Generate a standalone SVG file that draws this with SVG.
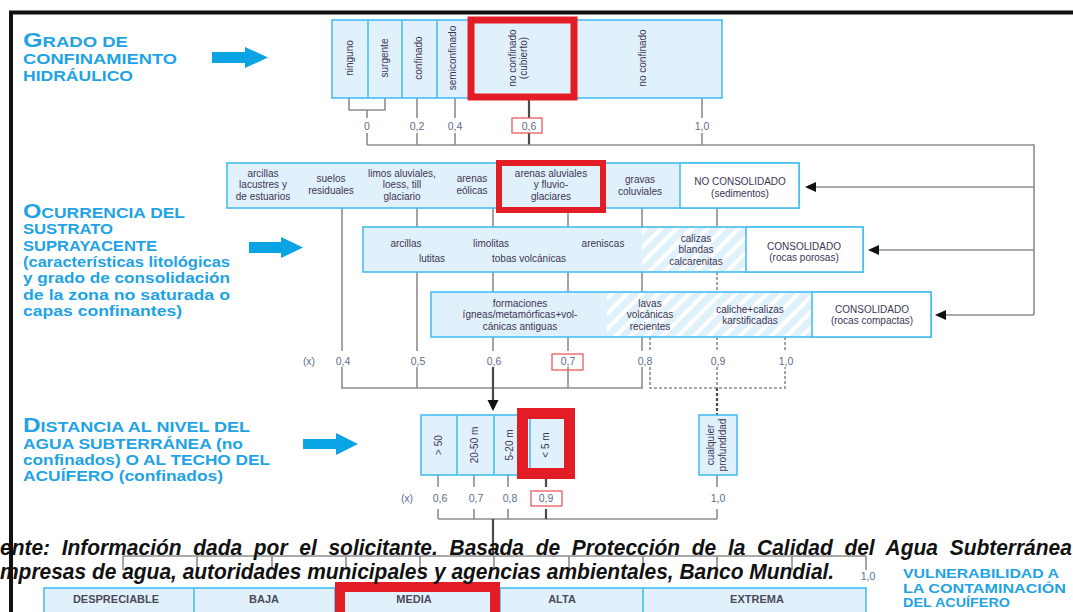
<svg xmlns="http://www.w3.org/2000/svg" width="1073" height="612" viewBox="0 0 1073 612">
<defs>
<style>
.t{font-family:"Liberation Sans",Arial,sans-serif;font-weight:bold;fill:#1fa3e4}
.c{font-family:"Liberation Sans",Arial,sans-serif;font-size:10px;fill:#3d3553;text-anchor:middle}
.v{font-family:"Liberation Sans",Arial,sans-serif;font-size:10px;fill:#3d3553;text-anchor:middle}
.n{font-family:"Liberation Sans",Arial,sans-serif;font-size:10.5px;fill:#5d6d8c;text-anchor:middle}
.bx{fill:#e1f1fb;stroke:#45bff0;stroke-width:1.6}
.wb{fill:#fff;stroke:#45bff0;stroke-width:1.6}
.dv{stroke:#45bff0;stroke-width:1.6;fill:none}
.rd{fill:none;stroke:#e31d25}
.rn{fill:none;stroke:#ec5a60;stroke-width:1.3}
.ln{fill:none;stroke:#8d8d8d;stroke-width:1.6}
.dk{fill:none;stroke:#4a4a4a;stroke-width:2.2}
.ds{stroke-dasharray:3 2}
.ba{fill:#0aa3e3}
.ah{fill:#111}
.bt{font-family:"Liberation Sans",Arial,sans-serif;font-weight:bold;font-size:11px;fill:#4b4a5c;text-anchor:middle}
.ov{font-family:"Liberation Sans",Arial,sans-serif;font-weight:bold;font-style:italic;font-size:22px;fill:#111}
</style>
<pattern id="hatch" width="11" height="11" patternUnits="userSpaceOnUse" patternTransform="rotate(45)">
<rect width="11" height="11" fill="#e1f1fb"/>
<rect width="4" height="11" fill="#fff"/>
</pattern>
</defs>

<g id="frame"><path d="M9,12.5 H1073 M11,10.5 V612" stroke="#111" stroke-width="4" fill="none"/></g>

<g id="title-grado">
<text class="t" x="23" y="47" textLength="105" lengthAdjust="spacingAndGlyphs"><tspan font-size="21">G</tspan><tspan font-size="15.5">RADO DE</tspan></text>
<text class="t" x="23" y="64" font-size="15.5" textLength="154" lengthAdjust="spacingAndGlyphs">CONFINAMIENTO</text>
<text class="t" x="23" y="81" font-size="15.5" textLength="110" lengthAdjust="spacingAndGlyphs">HIDRÁULICO</text>
<path class="ba" d="M212,52 H245 V47 L268,57.5 L245,68 V63 H212 Z"/>
</g>

<g id="title-ocurrencia">
<text class="t" x="23" y="218" textLength="162" lengthAdjust="spacingAndGlyphs"><tspan font-size="21">O</tspan><tspan font-size="15.5">CURRENCIA DEL</tspan></text>
<text class="t" x="23" y="234" font-size="15.5" textLength="90" lengthAdjust="spacingAndGlyphs">SUSTRATO</text>
<text class="t" x="23" y="251" font-size="15.5" textLength="134" lengthAdjust="spacingAndGlyphs">SUPRAYACENTE</text>
<text class="t" x="23" y="267" font-size="15" textLength="207" lengthAdjust="spacingAndGlyphs">(características litológicas</text>
<text class="t" x="23" y="283" font-size="15" textLength="207" lengthAdjust="spacingAndGlyphs">y grado de consolidación</text>
<text class="t" x="23" y="300" font-size="15" textLength="207" lengthAdjust="spacingAndGlyphs">de la zona no saturada o</text>
<text class="t" x="23" y="316" font-size="15" textLength="159" lengthAdjust="spacingAndGlyphs">capas confinantes)</text>
<path class="ba" d="M249,242 H281 V237 L303,247.5 L281,258 V253 H249 Z"/>
</g>

<g id="title-distancia">
<text class="t" x="23" y="432" textLength="227" lengthAdjust="spacingAndGlyphs"><tspan font-size="21">D</tspan><tspan font-size="15.5">ISTANCIA AL NIVEL DEL</tspan></text>
<text class="t" x="23" y="449" font-size="15.5" textLength="220" lengthAdjust="spacingAndGlyphs">AGUA SUBTERRÁNEA (no</text>
<text class="t" x="23" y="465" font-size="15.5" textLength="247" lengthAdjust="spacingAndGlyphs">confinados) O AL TECHO DEL</text>
<text class="t" x="23" y="481" font-size="15.5" textLength="200" lengthAdjust="spacingAndGlyphs">ACUÍFERO (confinados)</text>
<path class="ba" d="M303,439 H336 V433 L358,444 L336,455 V449 H303 Z"/>
</g>

<g id="title-vulnerabilidad">
<text class="t" x="903" y="578" font-size="12.5" textLength="156" lengthAdjust="spacingAndGlyphs">VULNERABILIDAD A</text>
<text class="t" x="903" y="593" font-size="12.5" textLength="163" lengthAdjust="spacingAndGlyphs">LA CONTAMINACIÓN</text>
<text class="t" x="903" y="607" font-size="12.5" textLength="107" lengthAdjust="spacingAndGlyphs">DEL ACUÍFERO</text>
</g>

<g id="connectors">
<path class="ln" d="M349,98 V110 H385 V98 M367,110 V118 M417,98 V118 M455,98 V118 M702,98 V118"/>
<path class="dk" d="M529,98 V118 M529,133 V145"/>
<path class="ln" d="M367,133 V145 M417,133 V145 M455,133 V145 M702,133 V145 M367,145 H1034 V315 M1034,187 H815 M1034,250 H878 M1034,315 H945"/>
<polygon class="ah" points="805,187 816,182 816,192"/>
<polygon class="ah" points="868,250 879,245 879,255"/>
<polygon class="ah" points="935,315 946,310 946,320"/>
<path class="ln" d="M342,208 V351 M417,208 V227 M417,272 V351 M493,208 V227 M493,272 V292 M493,337 V351 M568,208 V227 M568,272 V292 M568,337 V351 M642,208 V227 M642,272 V292 M642,337 V351 M717,208 V227"/>
<path class="ln ds" d="M717,272 V292 M717,337 V351 M650,337 V351 M785,337 V351"/>
<path class="ln" d="M342,367 V388 H642 V367 M417,367 V388 M568,367 V388"/>
<path class="dk" d="M493,367 V402"/>
<polygon class="ah" points="487.5,400 498.5,400 493,411"/>
<path class="ln ds" d="M650,367 V388 H785 V367 M717,367 V388"/>
<path class="dk ds" d="M717,388 V415"/>
<path class="ln" d="M438,475 V487 M474,475 V487 M508,475 V487 M717,475 V487 M438,509 V519 M474,509 V519 M508,509 V519 M717,509 V519 M438,519 H717"/>
<path class="dk" d="M546,475 V487 M546,509 V519 M493,519 V556"/>
<path class="ln" d="M123,556 H866 M123,556 V570 M197,556 V570 M272,556 V570 M346,556 V570 M420,556 V570 M494,556 V570 M569,556 V570 M643,556 V570 M717,556 V570 M792,556 V570 M866,556 V570"/>
</g>

<g id="scale-confinamiento">
<text class="n" x="367" y="129.5">0</text>
<text class="n" x="417" y="129.5">0,2</text>
<text class="n" x="455" y="129.5">0,4</text>
<text class="n" x="529" y="129.5">0,6</text>
<rect class="rn" x="512" y="118" width="30" height="15"/>
<text class="n" x="702" y="129.5">1,0</text>
</g>

<g id="scale-sustrato">
<text class="n" x="309" y="364.5">(x)</text>
<text class="n" x="343" y="364.5">0,4</text>
<text class="n" x="418" y="364.5">0,5</text>
<text class="n" x="494" y="364.5">0,6</text>
<text class="n" x="568" y="364.5">0,7</text>
<rect class="rn" x="552" y="354" width="31" height="16"/>
<text class="n" x="645" y="364.5">0,8</text>
<text class="n" x="718" y="364.5">0,9</text>
<text class="n" x="786" y="364.5">1,0</text>
</g>

<g id="scale-distancia">
<text class="n" x="407" y="501.5">(x)</text>
<text class="n" x="440" y="501.5">0,6</text>
<text class="n" x="476" y="501.5">0,7</text>
<text class="n" x="510" y="501.5">0,8</text>
<text class="n" x="546" y="501.5">0,9</text>
<rect class="rn" x="531" y="491" width="31" height="15"/>
<text class="n" x="718" y="501.5">1,0</text>
</g>

<g id="scale-vulnerabilidad">
<text class="n" x="868" y="580" font-size="9">1,0</text>
</g>

<g id="confinamiento">
<rect class="bx" x="332" y="20" width="390" height="78"/>
<path class="dv" d="M368,20 V98 M402,20 V98 M437,20 V98 M471,20 V98 M574,20 V98"/>
<text class="v" transform="translate(353,58) rotate(-90)">ninguno</text>
<text class="v" transform="translate(388,58) rotate(-90)">surgente</text>
<text class="v" transform="translate(422,58) rotate(-90)">confinado</text>
<text class="v" transform="translate(456,58) rotate(-90)">semiconfinado</text>
<text class="v" transform="translate(516,58) rotate(-90)">no confinado</text>
<text class="v" transform="translate(527,58) rotate(-90)">(cubierto)</text>
<text class="v" transform="translate(646,58) rotate(-90)">no confinado</text>
<rect class="rd" x="471" y="20" width="103" height="77" stroke-width="7"/>
</g>

<g id="no-consolidado">
<rect class="bx" x="227" y="163" width="572" height="45"/>
<rect class="wb" x="680" y="163" width="119" height="45"/>
<text class="c" x="263" y="176.5">arcillas</text>
<text class="c" x="263" y="188">lacustres y</text>
<text class="c" x="263" y="199.5">de estuarios</text>
<text class="c" x="331" y="182">suelos</text>
<text class="c" x="331" y="193.5">residuales</text>
<text class="c" x="402" y="176.5">limos aluviales,</text>
<text class="c" x="402" y="188">loess, till</text>
<text class="c" x="402" y="199.5">glaciario</text>
<text class="c" x="472" y="182">arenas</text>
<text class="c" x="472" y="193.5">eólicas</text>
<text class="c" x="551" y="176.5">arenas aluviales</text>
<text class="c" x="551" y="188">y fluvio-</text>
<text class="c" x="551" y="199.5">glaciares</text>
<text class="c" x="640" y="183">gravas</text>
<text class="c" x="640" y="194.5">coluviales</text>
<text class="c" x="740" y="185">NO CONSOLIDADO</text>
<text class="c" x="740" y="197">(sedimentos)</text>
<rect class="rd" x="499" y="163" width="104" height="47" stroke-width="6"/>
</g>

<g id="consolidado-porosas">
<rect class="bx" x="363" y="227" width="500" height="45"/>
<rect x="642" y="228" width="104" height="43" fill="url(#hatch)"/>
<rect class="wb" x="746" y="227" width="117" height="45"/>
<text class="c" x="406" y="246.5">arcillas</text>
<text class="c" x="432" y="261.5">lutitas</text>
<text class="c" x="491" y="246.5">limolitas</text>
<text class="c" x="529" y="261.5">tobas volcánicas</text>
<text class="c" x="603" y="246.5">areniscas</text>
<text class="c" x="696" y="241.5">calizas</text>
<text class="c" x="696" y="253">blandas</text>
<text class="c" x="696" y="264.5">calcarenitas</text>
<text class="c" x="804" y="249.5">CONSOLIDADO</text>
<text class="c" x="804" y="261">(rocas porosas)</text>
</g>

<g id="consolidado-compactas">
<rect class="bx" x="431" y="292" width="500" height="45"/>
<rect x="607" y="293" width="205" height="43" fill="url(#hatch)"/>
<rect class="wb" x="812" y="292" width="119" height="45"/>
<text class="c" x="520" y="306.5">formaciones</text>
<text class="c" x="520" y="318">ígneas/metamórficas+vol-</text>
<text class="c" x="520" y="329.5">cánicas antiguas</text>
<text class="c" x="650" y="306.5">lavas</text>
<text class="c" x="650" y="318">volcánicas</text>
<text class="c" x="650" y="329.5">recientes</text>
<text class="c" x="750" y="312.5">caliche+calizas</text>
<text class="c" x="750" y="324">karstificadas</text>
<text class="c" x="872" y="312.5">CONSOLIDADO</text>
<text class="c" x="872" y="324">(rocas compactas)</text>
</g>

<g id="distancia">
<rect class="bx" x="421" y="415" width="145" height="60"/>
<path class="dv" d="M457,415 V475 M494,415 V475 M530,415 V475"/>
<text class="v" transform="translate(442,445) rotate(-90)">&gt; 50</text>
<text class="v" transform="translate(478,445) rotate(-90)">20-50 m</text>
<text class="v" transform="translate(513,445) rotate(-90)">5-20 m</text>
<text class="v" transform="translate(549,445) rotate(-90)">&lt; 5 m</text>
<rect class="rd" x="522.5" y="413.5" width="47" height="60" stroke-width="11"/>
<rect class="bx" x="699" y="415" width="38" height="60"/>
<text class="v" transform="translate(714,445) rotate(-90)">cualquier</text>
<text class="v" transform="translate(726,445) rotate(-90)">profundidad</text>
</g>

<g id="vulnerabilidad">
<rect class="bx" x="44" y="588" width="822" height="30"/>
<path class="dv" d="M194,588 V612 M335,588 V612 M500,588 V612 M643,588 V612"/>
<text class="bt" x="116" y="603">DESPRECIABLE</text>
<text class="bt" x="264" y="603">BAJA</text>
<text class="bt" x="414" y="603">MEDIA</text>
<text class="bt" x="562" y="603">ALTA</text>
<text class="bt" x="757" y="603">EXTREMA</text>
<rect class="rd" x="340" y="587" width="155" height="40" stroke-width="10"/>
</g>

<g id="fuente" transform="scale(0.952,1)">
<text class="ov" x="0" y="555" word-spacing="6.2">ente: Información dada por el solicitante. Basada de Protección de la Calidad del Agua Subterránea</text>
<text class="ov" x="0" y="579">mpresas de agua, autoridades municipales y agencias ambientales, Banco Mundial.</text>
</g>
</svg>
